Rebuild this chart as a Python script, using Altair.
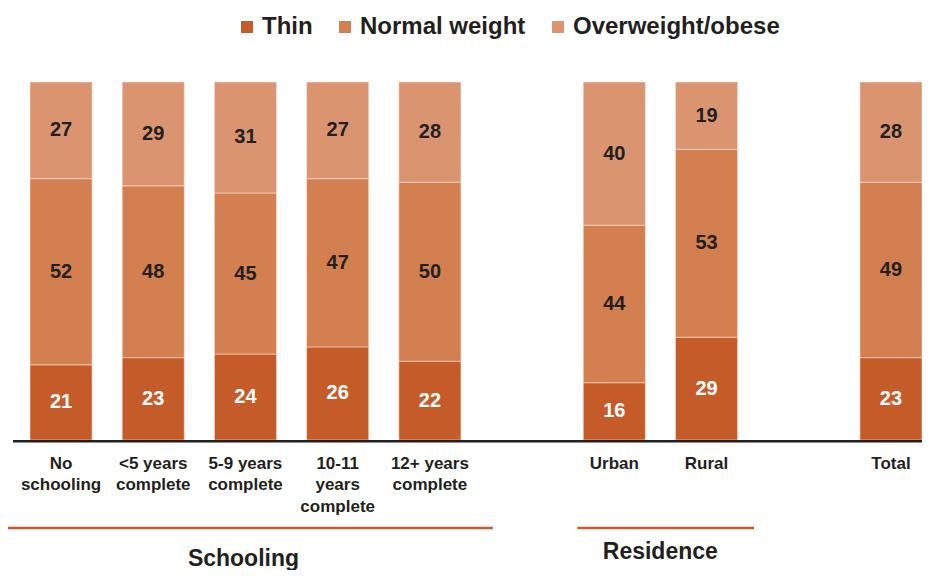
import altair as alt
import pandas as pd

# ---- data ----
categories = ["No\nschooling", "<5 years\ncomplete", "5-9 years\ncomplete",
              "10-11\nyears\ncomplete", "12+ years\ncomplete",
              "Urban", "Rural", "Total"]
thin = [21, 23, 24, 26, 22, 16, 29, 23]
normal = [52, 48, 45, 47, 50, 44, 53, 49]
overweight = [27, 29, 31, 27, 28, 40, 19, 28]
series = ["Thin", "Normal weight", "Overweight/obese"]
colors = ["#C65B2A", "#D47F4F", "#DA9570"]
# x domain with two empty slots separating the groups
x_domain = categories[:5] + [" "] + categories[5:7] + ["  "] + categories[7:]
schooling_span = [categories[0], categories[4]]
residence_span = [categories[5], categories[6]]

rows = []
for i, c in enumerate(categories):
    for k, (s, vals) in enumerate(zip(series, [thin, normal, overweight])):
        rows.append({"category": c, "series": s, "value": vals[i], "order": k})
df = pd.DataFrame(rows)

W, H = 909, 358
FONT = "Liberation Sans"
DARK = "#231F20"
LINE = "#C65B2A"

xscale = alt.Scale(domain=x_domain, range=[17, 909], paddingInner=0.327, paddingOuter=0)
yscale = alt.Scale(domain=[0, 1])

base = alt.Chart(df).transform_stack(
    stack="value", groupby=["category"], as_=["y0", "y1"],
    offset="normalize", sort=[alt.SortField("order", "ascending")]
).transform_calculate(mid="(datum.y0 + datum.y1) / 2")

bars = base.mark_bar(stroke="#FBE3D6", strokeWidth=0.8, strokeOpacity=0.7).encode(
    x=alt.X("category:N", scale=xscale, sort=x_domain,
            axis=alt.Axis(title=None, domain=False, ticks=False, labelAngle=0,
                          labelPadding=15, labelFontSize=17, labelFont=FONT,
                          labelFontWeight="bold", labelColor=DARK,
                          labelLineHeight=21.5, labelOverlap=False, labelLimit=0,
                          labelExpr="split(datum.label, '\\n')")),
    y=alt.Y("y0:Q", scale=yscale, axis=None),
    y2="y1:Q",
    color=alt.Color("series:N", scale=alt.Scale(domain=series, range=colors),
                    legend=alt.Legend(orient="none", legendX=222, legendY=-67,
                                      direction="horizontal", title=None,
                                      symbolType="square", symbolSize=144,
                                      symbolStrokeWidth=0, labelFontSize=24,
                                      labelFont=FONT, labelFontWeight="bold",
                                      labelColor=DARK, columnPadding=20,
                                      labelOffset=3, padding=0, labelLimit=0)),
)

labels = base.mark_text(font=FONT, fontWeight="bold", fontSize=20, baseline="middle").encode(
    x=alt.X("category:N", scale=xscale, sort=x_domain),
    y=alt.Y("mid:Q", scale=yscale),
    text="value:Q",
    color=alt.condition("datum.series == 'Thin'", alt.value("white"), alt.value(DARK)),
)

baseline = alt.Chart(pd.DataFrame({"a": [0]})).mark_rule(color=DARK, strokeWidth=2.6).encode(
    x=alt.value(0), x2=alt.value(W), y=alt.value(H + 1.3))

sch = pd.DataFrame({"start": [schooling_span[0]], "end": [schooling_span[1]], "title": ["Schooling"],
                    "anchor": [categories[2]]})
res = pd.DataFrame({"start": [residence_span[0]], "end": [residence_span[1]], "title": ["Residence"],
                    "anchor": [categories[5]]})

sch_line = alt.Chart(sch).mark_rule(color=LINE, strokeWidth=2.5, xOffset=-56, x2Offset=63).encode(
    x=alt.X("start:N", scale=xscale), x2="end:N", y=alt.value(446))
res_line = alt.Chart(res).mark_rule(color=LINE, strokeWidth=2.5, xOffset=-37, x2Offset=47.5).encode(
    x=alt.X("start:N", scale=xscale), x2="end:N", y=alt.value(446))
sch_title = alt.Chart(sch).mark_text(font=FONT, fontWeight="bold", fontSize=23, color=DARK,
                                     baseline="alphabetic", dx=-2).encode(
    x=alt.X("anchor:N", scale=xscale), y=alt.value(484), text="title:N")
res_title = alt.Chart(res).mark_text(font=FONT, fontWeight="bold", fontSize=23, color=DARK,
                                     baseline="alphabetic", dx=46).encode(
    x=alt.X("anchor:N", scale=xscale), y=alt.value(477), text="title:N")

chart = alt.layer(bars, labels, baseline, sch_line, res_line, sch_title, res_title).properties(
    width=W, height=H,
    padding={"left": 5, "top": 74, "right": 0, "bottom": 130},
    autosize=alt.AutoSizeParams(type="none"),
).configure_view(stroke=None)

chart.save("out.html", embed_options={"renderer": "svg", "actions": False})
